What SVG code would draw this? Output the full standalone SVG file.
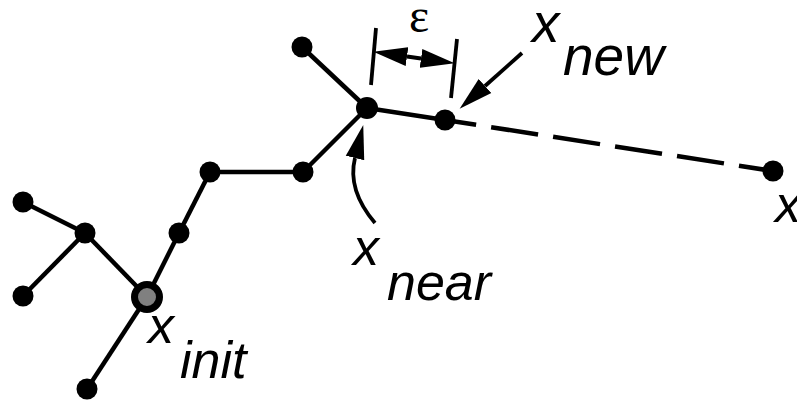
<svg xmlns="http://www.w3.org/2000/svg" width="797" height="403" viewBox="0 0 797 403">
<style>
.edge{stroke:#000;stroke-width:4.5;fill:none;stroke-linecap:butt}
.node{fill:#000}
.lbl{font-family:"Liberation Sans",Arial,sans-serif;font-style:italic;fill:#000}
.eps{font-family:"Liberation Serif","Times New Roman",serif;fill:#000}
.ann{stroke:#000;stroke-width:3.8;fill:none}
</style>
<defs>
<marker id="ah" markerUnits="userSpaceOnUse" markerWidth="36" markerHeight="22" viewBox="0 -11 36 22" refX="0" refY="0" orient="auto-start-reverse">
<path d="M0,-9.5 L34,0 L0,9.5 z" fill="#000"/>
</marker>
</defs>
<rect width="797" height="403" fill="#fff"/>
<g id="connectors">
<line class="edge" x1="302" y1="47" x2="367" y2="108"/>
<line class="edge" x1="367" y1="108" x2="445" y2="120"/>
<line class="edge" x1="367" y1="108" x2="303" y2="172"/>
<line class="edge" x1="303" y1="172" x2="210" y2="172"/>
<line class="edge" x1="210" y1="172" x2="179" y2="233"/>
<line class="edge" x1="179" y1="233" x2="147" y2="297"/>
<line class="edge" x1="147" y1="297" x2="85" y2="233"/>
<line class="edge" x1="85" y1="233" x2="23" y2="202"/>
<line class="edge" x1="85" y1="233" x2="23" y2="296"/>
<line class="edge" x1="147" y1="297" x2="87" y2="389"/>
<line class="edge" x1="445" y1="120" x2="773" y2="171" stroke-dasharray="47.5 15.2" stroke-dashoffset="16"/>
</g>
<g id="dimension">
<line class="ann" x1="376" y1="28" x2="371" y2="85"/>
<line class="ann" x1="457" y1="39" x2="451" y2="98"/>
<line class="ann" x1="407" y1="56.5" x2="421" y2="58.5" marker-start="url(#ah)" marker-end="url(#ah)"/>
<text class="eps" x="419" y="32" font-size="48" text-anchor="middle">ε</text>
</g>
<g id="pointers">
<path class="ann" d="M522,53 L485,86" marker-end="url(#ah)"/>
<path class="ann" d="M375,223 Q347,190 355,158" marker-end="url(#ah)"/>
</g>
<g id="n1"><circle class="node" cx="302" cy="47" r="10.5"/></g>
<g id="x_near"><circle class="node" cx="367" cy="108" r="11"/>
<text class="lbl" x="353" y="265" font-size="52">x</text>
<text class="lbl" x="387" y="300" font-size="52">near</text></g>
<g id="x_new"><circle class="node" cx="445" cy="120" r="10.5"/>
<text class="lbl" x="532" y="42" font-size="55">x</text>
<text class="lbl" x="563" y="75" font-size="55">new</text></g>
<g id="x_rand"><circle class="node" cx="773" cy="171" r="10.5"/>
<text class="lbl" x="775" y="222" font-size="52">x</text></g>
<g id="n2"><circle class="node" cx="210" cy="172" r="10.5"/></g>
<g id="n3"><circle class="node" cx="303" cy="172" r="10.5"/></g>
<g id="n4"><circle class="node" cx="179" cy="233" r="10.5"/></g>
<g id="n5"><circle class="node" cx="85" cy="233" r="10.5"/></g>
<g id="n6"><circle class="node" cx="23" cy="202" r="10.5"/></g>
<g id="n7"><circle class="node" cx="23" cy="296" r="10.5"/></g>
<g id="n8"><circle class="node" cx="87" cy="389" r="10.5"/></g>
<g id="x_init"><circle cx="147" cy="297" r="12.5" fill="#808080" stroke="#000" stroke-width="7"/>
<text class="lbl" x="148" y="343" font-size="52">x</text>
<text class="lbl" x="180" y="378" font-size="52">init</text></g>
</svg>
